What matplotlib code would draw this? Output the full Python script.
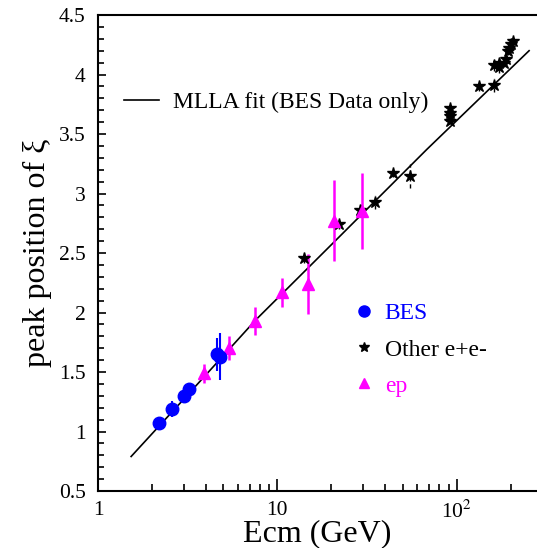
import numpy as np
import matplotlib
matplotlib.use("Agg")
import matplotlib.pyplot as plt
from matplotlib.lines import Line2D
from matplotlib.ticker import FixedLocator, FixedFormatter, NullFormatter

plt.rcParams['font.family'] = ['Liberation Serif', 'DejaVu Serif']
plt.rcParams['mathtext.fontset'] = 'stix'

# BES data (blue circles)
bes_e = [2.2, 2.6, 3.0, 3.2, 4.6, 4.8]
bes_xi = [1.07, 1.19, 1.30, 1.36, 1.65, 1.63]
bes_err = [0.03, 0.07, 0.04, 0.04, 0.14, 0.20]

# other e+e- experiments (black stars)
ee_e = [14.0, 22.0, 29.0, 35.0, 44.0, 55.0, 91.2, 91.2, 91.2, 91.2,
        133.0, 161.0, 161.0, 172.0, 172.0, 183.0, 189.0, 192.0, 196.0, 200.0, 206.0]
ee_xi = [2.46, 2.74, 2.86, 2.93, 3.17, 3.15, 3.61, 3.65, 3.68, 3.72,
         3.90, 3.91, 4.08, 4.06, 4.10, 4.10, 4.13, 4.20, 4.22, 4.26, 4.28]
ee_err = [0.04, 0.04, 0.04, 0.06, 0.03, 0.10, 0.03, 0.03, 0.03, 0.03,
          0.04, 0.06, 0.05, 0.05, 0.04, 0.04, 0.03, 0.04, 0.04, 0.03, 0.03]

# ep data (magenta triangles)
ep_e = [3.9, 5.4, 7.5, 10.6, 14.8, 20.8, 29.7]
ep_xi = [1.49, 1.70, 1.93, 2.17, 2.24, 2.77, 2.85]
ep_err = [0.08, 0.10, 0.12, 0.12, 0.25, 0.34, 0.32]

# MLLA fit curve
fit_e = [1.53, 3.0, 7.6, 20.0, 68.0, 253.0]
fit_xi = [0.79, 1.27, 1.94, 2.57, 3.37, 4.20]

fig = plt.figure(figsize=(5.37, 5.48), dpi=100)
ax = fig.add_axes([0.1825, 0.104, 0.8175, 0.8686])

ax.plot(fit_e, fit_xi, color='black', lw=1.2, label='MLLA fit (BES Data only)')

eb = ax.errorbar(ee_e, ee_xi, yerr=ee_err, fmt='*', color='black', ms=9,
                 elinewidth=1.0, capsize=0, label='Other e+e-')
for c in eb[2]:
    c.set_linestyle((0, (3, 2)))
ax.errorbar(ep_e, ep_xi, yerr=ep_err, fmt='^', color='#ff00ff', ms=8,
            elinewidth=1.8, capsize=0, label='ep')
ax.errorbar(bes_e, bes_xi, yerr=bes_err, fmt='o', color='#0000ff', ms=9,
            elinewidth=1.5, capsize=0, label='BES')

ax.set_xscale('log')
ax.set_xlim(1, 280)
ax.set_ylim(0.5, 4.5)

ax.spines['right'].set_visible(False)
for s in ['left', 'bottom', 'top']:
    ax.spines[s].set_linewidth(1.5)

ax.xaxis.set_major_locator(FixedLocator([1, 10, 100]))
ax.xaxis.set_major_formatter(FixedFormatter(['1', '10', r'10$^{2}$']))
ax.xaxis.set_minor_locator(FixedLocator([2, 3, 4, 5, 6, 7, 8, 9, 20, 30, 40, 50, 60, 70, 80, 90, 200]))
ax.xaxis.set_minor_formatter(NullFormatter())
ax.set_yticks([0.5, 1, 1.5, 2, 2.5, 3, 3.5, 4, 4.5])
ax.set_yticklabels(['0.5', '1', '1.5', '2', '2.5', '3', '3.5', '4', '4.5'])
ax.set_yticks(np.arange(0.6, 4.5, 0.1), minor=True)

ax.tick_params(which='both', direction='in', top=False, right=False, labelsize=15.5)
ax.tick_params(axis='x', which='major', length=9, width=1.2, pad=7)
ax.tick_params(axis='x', which='minor', length=5, width=1.2)
ax.tick_params(axis='y', which='major', length=6, width=1.2, pad=9)
ax.tick_params(axis='y', which='minor', length=4, width=1.2)

ax.set_xlabel('Ecm (GeV)', fontsize=23, labelpad=-3)
ax.set_ylabel('peak position of ξ', fontsize=23, labelpad=5)

h = ax.get_legend_handles_labels()[0]
leg1 = ax.legend([h[0]], ['MLLA fit (BES Data only)'], loc='upper left',
                 bbox_to_anchor=(0.01, 0.883), frameon=False, fontsize=17,
                 handlelength=1.5, handletextpad=0.6)
ax.add_artist(leg1)

mk = [Line2D([], [], marker='o', color='#0000ff', ls='none', ms=8),
      Line2D([], [], marker='*', color='black', ls='none', ms=7),
      Line2D([], [], marker='^', color='#ff00ff', ls='none', ms=7)]
ax.legend(mk, ['BES', 'Other e+e-', 'ep'], loc='upper left',
          bbox_to_anchor=(0.535, 0.44), frameon=False, fontsize=17,
          labelcolor=['#0000ff', 'black', '#ff00ff'], handlelength=0.8,
          handletextpad=0.5, labelspacing=0.62)

fig.savefig('out.png', dpi=100)
